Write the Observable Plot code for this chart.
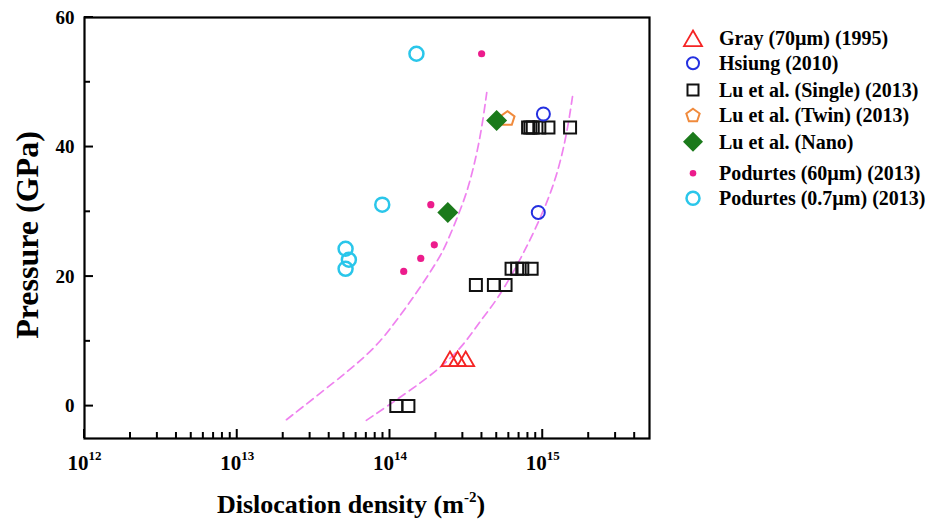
<!DOCTYPE html>
<html><head><meta charset="utf-8">
<script src="https://cdn.jsdelivr.net/npm/d3@7"></script>
<script src="https://cdn.jsdelivr.net/npm/@observablehq/plot@0.6"></script>
<style>
body{margin:0;background:#fff;}
#wrap{position:relative;width:928px;height:519px;}
</style></head><body><div id="wrap"></div>
<script>
// ---- data (density in m^-2, pressure in GPa) ----
const grayDensity = [2.47e14, 2.77e14, 3.13e14];
const grayPressure = [7.3, 7.3, 7.3];
const hsiungDensity = [1.01e15, 9.35e14];
const hsiungPressure = [45.1, 29.9];
const luSingleDensity = [8.02e14, 8.3e14, 8.6e14, 9.5e14, 1.09e15, 1.51e15, 6.25e14, 6.8e14, 7.35e14, 8.46e14, 3.65e14, 4.79e14, 5.71e14, 1.10e14, 1.32e14];
const luSinglePressure = [43.0, 43.0, 43.0, 43.0, 43.0, 43.0, 21.2, 21.2, 21.2, 21.2, 18.7, 18.7, 18.7, 0, 0];
const luTwinDensity = [5.87e14];
const luTwinPressure = [44.5];
const luNanoDensity = [2.39e14, 4.99e14];
const luNanoPressure = [29.9, 44.1];
const pod60Density = [3.98e14, 1.85e14, 1.95e14, 1.59e14, 1.23e14];
const pod60Pressure = [54.4, 31.1, 24.9, 22.8, 20.8];
const pod07Density = [1.49e14, 8.9e13, 5.12e13, 5.38e13, 5.12e13];
const pod07Pressure = [54.4, 31.1, 24.3, 22.6, 21.2];
// dashed guide curves
const leftCurveDensity = [2.1e13, 4.6e13, 6.4e13, 8.7e13, 1.09e14, 1.4e14, 2.05e14, 2.32e14, 2.85e14, 3.3e14, 3.9e14, 4.3e14];
const leftCurvePressure = [-2.1, 4.2, 7.0, 10.0, 13.1, 16.5, 22.4, 24.8, 29.9, 34.0, 41.2, 48.4];
const rightCurveDensity = [7.0e13, 1.3e14, 2.15e14, 3.06e14, 3.88e14, 5.07e14, 6.87e14, 8.83e14, 1.19e15, 1.43e15, 1.58e15];
const rightCurvePressure = [-2.2, 2.1, 5.9, 9.5, 13.1, 16.5, 21.9, 27.0, 34.0, 41.5, 48.4];
// axes
const xTicks = [1e12, 1e13, 1e14, 1e15];
const xTickExps = ["12", "13", "14", "15"];
const xMinorTicks = [2e12,3e12,4e12,5e12,6e12,7e12,8e12,9e12,2e13,3e13,4e13,5e13,6e13,7e13,8e13,9e13,2e14,3e14,4e14,5e14,6e14,7e14,8e14,9e14,2e15,3e15,4e15];
const yTicks = [0, 20, 40, 60];
const yMinorTicks = [10, 30, 50];
const seriesNames = ["Gray (70µm) (1995)", "Hsiung (2010)", "Lu et al. (Single) (2013)", "Lu et al. (Twin) (2013)", "Lu et al. (Nano)", "Podurtes (60µm) (2013)", "Podurtes (0.7µm) (2013)"];

// ---- symbols ----
const R = s => Math.sqrt(s / Math.PI);
const symTriangle = {draw(c, s){const r = R(s), h = r*Math.sqrt(3); c.moveTo(0,-h/2); c.lineTo(r,h/2); c.lineTo(-r,h/2); c.closePath();}};
const symSquare = {draw(c, s){const r = R(s); c.moveTo(-r,-r); c.lineTo(r,-r); c.lineTo(r,r); c.lineTo(-r,r); c.closePath();}};
const symCircle = {draw(c, s){const r = R(s); c.moveTo(r,0); c.arc(0,0,r,0,2*Math.PI);}};
const symPentagon = {draw(c, s){const r = R(s); for (let k=0;k<5;k++){const a=-Math.PI/2+k*2*Math.PI/5; const px=r*Math.cos(a), py=r*Math.sin(a)+r*0.1; if(k===0)c.moveTo(px,py); else c.lineTo(px,py);} c.closePath();}};
const symDiamond = {draw(c, s){const r = R(s); c.moveTo(0,-r); c.lineTo(r,0); c.lineTo(0,r); c.lineTo(-r,0); c.closePath();}};

const zip = (a, b) => a.map((d, i) => ({x: d, y: b[i]}));
const curveColor = "#ef82ef";
const colors = {gray:"#f52424", hsiung:"#2430e0", lu:"#111111", twin:"#f08a3c", nano:"#1b7a1b", p60:"#ec1c8c", p07:"#2ac6ea"};

const series = [
  {name: seriesNames[0], data: zip(grayDensity, grayPressure), sym: symTriangle, r: 8.5, stroke: colors.gray, fill: "none", sw: 1.8, lr: 9},
  {name: seriesNames[1], data: zip(hsiungDensity, hsiungPressure), sym: symCircle, r: 6.5, stroke: colors.hsiung, fill: "none", sw: 2, lr: 6},
  {name: seriesNames[2], data: zip(luSingleDensity, luSinglePressure), sym: symSquare, r: 6, stroke: colors.lu, fill: "none", sw: 2, lr: 5.5},
  {name: seriesNames[3], data: zip(luTwinDensity, luTwinPressure), sym: symPentagon, r: 7.5, stroke: colors.twin, fill: "none", sw: 2, lr: 7},
  {name: seriesNames[4], data: zip(luNanoDensity, luNanoPressure), sym: symDiamond, r: 10.5, stroke: "none", fill: colors.nano, sw: 0, lr: 10},
  {name: seriesNames[5], data: zip(pod60Density, pod60Pressure), sym: symCircle, r: 3.6, stroke: "none", fill: colors.p60, sw: 0, lr: 3.3},
  {name: seriesNames[6], data: zip(pod07Density, pod07Pressure), sym: symCircle, r: 7, stroke: colors.p07, fill: "none", sw: 2.5, lr: 6.5}
];
const drawOrder = [2, 0, 1, 3, 4, 5, 6];

const plot = Plot.plot({
  width: 928, height: 519,
  marginLeft: 84, marginRight: 279, marginTop: 17, marginBottom: 81,
  style: {fontFamily: "'Liberation Serif','Times New Roman',serif", fontWeight: "bold", background: "#fff", color: "#000", overflow: "visible"},
  x: {type: "log", domain: [1e12, 5e15]},
  y: {domain: [-5, 60]},
  marks: [
    Plot.line(zip(leftCurveDensity, leftCurvePressure), {x: "x", y: "y", curve: "basis", stroke: curveColor, strokeWidth: 1.7, strokeDasharray: "8,5"}),
    Plot.line(zip(rightCurveDensity, rightCurvePressure), {x: "x", y: "y", curve: "basis", stroke: curveColor, strokeWidth: 1.7, strokeDasharray: "8,5"}),
    ...drawOrder.map(i => {
      const s = series[i];
      return Plot.dot(s.data, {x: "x", y: "y", symbol: s.sym, r: s.r, stroke: s.stroke, fill: s.fill, strokeWidth: s.sw, strokeLinejoin: "miter"});
    }),
    Plot.frame({stroke: "#000", strokeWidth: 2.2}),
    Plot.axisY(yTicks, {tickSize: 0, tickPadding: 10, fontSize: 19, fontWeight: "bold", label: null}),
    Plot.axisX(xTicks, {tickSize: 0, tickPadding: 17, fontSize: 21, fontWeight: "bold", label: null,
      tickFormat: d => "10|" + xTickExps[xTicks.indexOf(d)]}),
    Plot.text(["Dislocation density (m|-2|)"], {frameAnchor: "bottom", dx: -16, dy: 74, lineAnchor: "bottom", fontSize: 26, fontWeight: "bold", fill: "#000"}),
    Plot.text(["Pressure (GPa)"], {frameAnchor: "left", dx: -57, dy: 7, rotate: -90, textAnchor: "middle", lineAnchor: "middle", fontSize: 32, fontWeight: "bold", fill: "#000"})
  ]
});

// inward tick marks, positioned with the plot's own scales
const sx = plot.scale("x"), sy = plot.scale("y");
const xb = sy.apply(-5);
const xl = sx.apply(1e12);
const tg = d3.select(plot).append("g").attr("aria-label", "inward ticks");
const addX = (vals, len) => vals.forEach(v => { const px = sx.apply(v); tg.append("line").attr("x1", px).attr("x2", px).attr("y1", xb).attr("y2", xb - len).attr("stroke", "#000").attr("stroke-width", 2); });
const addY = (vals, len) => vals.forEach(v => { const py = sy.apply(v); tg.append("line").attr("x1", xl).attr("x2", xl + len).attr("y1", py).attr("y2", py).attr("stroke", "#000").attr("stroke-width", 2); });
addX(xMinorTicks, 6);
addX(xTicks, 9);
addY(yMinorTicks, 6);
addY(yTicks, 9);

// superscripts
d3.select(plot).selectAll("text").each(function() {
  const t = this.textContent;
  if (!t.includes("|")) return;
  const parts = t.split("|");
  const isTitle = parts.length > 2;
  const supSize = isTitle ? 15 : 13, rise = isTitle ? 11 : 10;
  this.textContent = "";
  const sel = d3.select(this);
  sel.append("tspan").text(parts[0]);
  sel.append("tspan").attr("font-size", supSize).attr("dy", -rise).text(parts[1]);
  if (isTitle) sel.append("tspan").attr("dy", rise).text(parts[2]);
});

// legend (inside the same svg, right side)
const legendRowsY = [38.3, 63.3, 90, 115, 141.7, 173.3, 198.3];
const lg = d3.select(plot).append("g").attr("aria-label", "legend").attr("text-anchor", "start");
series.forEach((s, i) => {
  const y = legendRowsY[i];
  lg.append("path")
    .attr("d", d3.symbol(s.sym, s.lr * s.lr * Math.PI)())
    .attr("transform", `translate(693,${y})`)
    .attr("fill", s.fill).attr("stroke", s.stroke).attr("stroke-width", s.sw);
  lg.append("text").attr("x", 719).attr("y", y + 6.8)
    .attr("text-anchor", "start")
    .attr("font-size", 20).attr("font-weight", "bold").attr("fill", "#000")
    .text(s.name);
});

document.getElementById("wrap").appendChild(plot);
</script>
</body></html>
